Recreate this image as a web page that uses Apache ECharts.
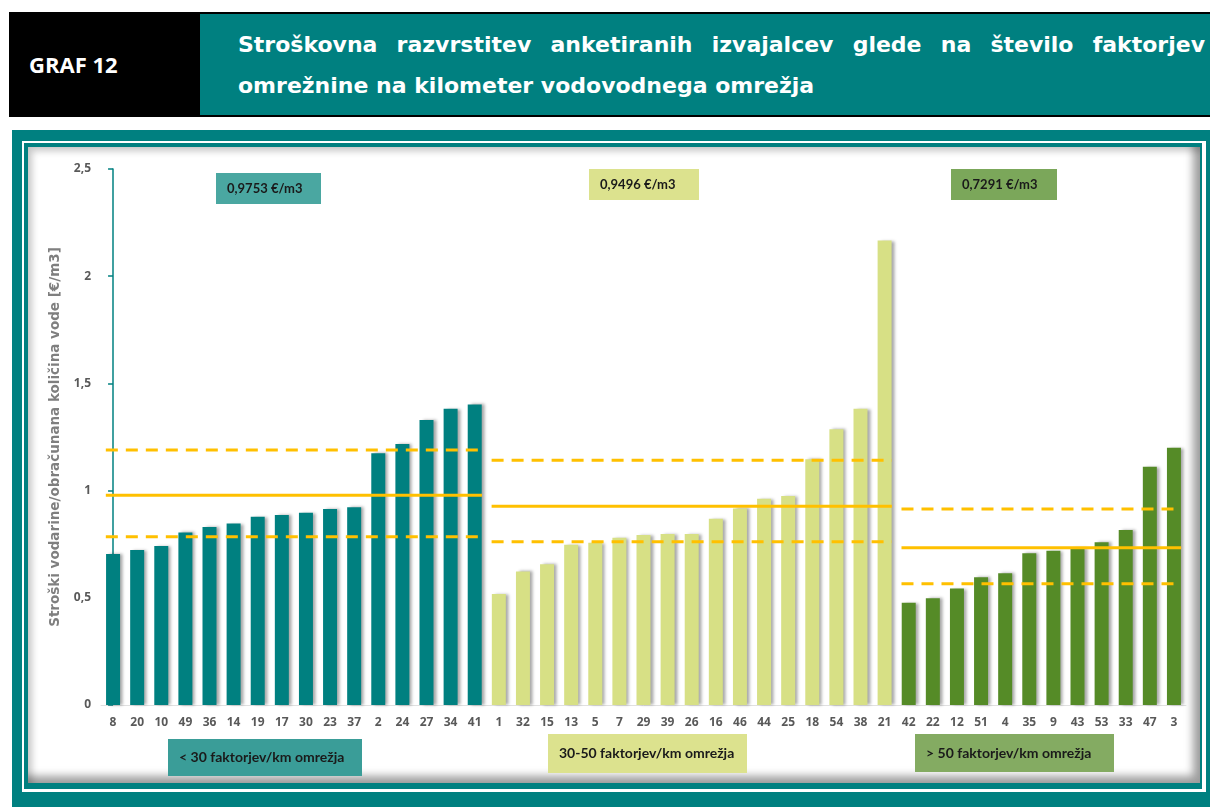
<!DOCTYPE html>
<html>
<head>
<meta charset="UTF-8">
<title>GRAF 12</title>
<style>
  html, body { margin: 0; padding: 0; background: #fff; }
  body { width: 1210px; height: 807px; position: relative; overflow: hidden; font-family: "DejaVu Sans", sans-serif; }
  .hdr { position: absolute; left: 9px; top: 12px; width: 1201px; height: 105px; background: #000; }
  .hdr .no { position: absolute; left: 20px; top: 37px; color: #fff; font: bold 22px "Open Sans", sans-serif; line-height: 30px; }
  .hdr .tt { position: absolute; left: 191px; top: 2px; right: 0; height: 101px; background: #008080; }
  .hdr .tt div { position: absolute; left: 38px; right: 5px; color: #fff; font: bold 22px "DejaVu Sans", sans-serif; line-height: 26px; }
  .hdr .l1 { top: 18px; text-align: justify; text-align-last: justify; }
  .hdr .l2 { top: 59px; white-space: nowrap; }
  .f1 { position: absolute; left: 12px; top: 130px; width: 1198px; height: 677px; background: #008080; }
  .f2 { position: absolute; left: 22px; top: 141px; width: 1184px; height: 651px; background: #fff; }
  .f3 { position: absolute; left: 24px; top: 143px; width: 1178px; height: 646px; background: #008080; }
  .f4 { position: absolute; left: 28px; top: 147px; width: 1172px; height: 636px; background: #fff;
        box-shadow: inset 4px 4px 7px rgba(0,0,0,0.22), inset -7px -7px 8px rgba(0,0,0,0.38); }
  #chart { position: absolute; left: 0; top: 0; width: 1210px; height: 807px; }
</style>
</head>
<body>
<div class="hdr">
  <div class="no">GRAF 12</div>
  <div class="tt">
    <div class="l1">Stroškovna razvrstitev anketiranih izvajalcev glede na število faktorjev</div>
    <div class="l2">omrežnine na kilometer vodovodnega omrežja</div>
  </div>
</div>
<div class="f1"></div>
<div class="f2"></div>
<div class="f3"></div>
<div class="f4"></div>
<div id="chart"></div>
<script src="https://cdn.jsdelivr.net/npm/echarts@6/dist/echarts.min.js"></script>
<script type="text/javascript">
  // skupina < 30 faktorjev/km
  var cats1 = ['8','20','10','49','36','14','19','17','30','23','37','2','24','27','34','41'];
  var vals1 = [0.704,0.723,0.742,0.805,0.830,0.846,0.878,0.886,0.897,0.914,0.922,1.174,1.217,1.329,1.382,1.402];
  // skupina 30-50 faktorjev/km
  var cats2 = ['1','32','15','13','5','7','29','39','26','16','46','44','25','18','54','38','21'];
  var vals2 = [0.518,0.623,0.656,0.748,0.757,0.780,0.793,0.798,0.798,0.869,0.917,0.962,0.975,1.146,1.286,1.382,2.166];
  // skupina > 50 faktorjev/km
  var cats3 = ['42','22','12','51','4','35','9','43','53','33','47','3'];
  var vals3 = [0.477,0.498,0.543,0.596,0.614,0.708,0.720,0.731,0.759,0.816,1.111,1.200];

  var groupColors = ['#008080', '#d7e085', '#558b27'];
  var meanVals  = [0.978, 0.927, 0.734];
  var upperVals = [1.189, 1.141, 0.914];
  var lowerVals = [0.785, 0.762, 0.566];
  var meanLabels  = ['0,9753 €/m3', '0,9496 €/m3', '0,7291 €/m3'];
  var groupLabels = ['< 30 faktorjev/km omrežja', '30-50 faktorjev/km omrežja', '> 50 faktorjev/km omrežja'];
  var yTicks = [0, 0.5, 1, 1.5, 2, 2.5];

  var groups = [[cats1, vals1], [cats2, vals2], [cats3, vals3]];
  var categories = [];
  var barData = [];
  var ranges = [];
  groups.forEach(function (g, gi) {
    var start = categories.length;
    g[0].forEach(function (c, i) {
      categories.push(c);
      barData.push({ value: g[1][i], itemStyle: { color: groupColors[gi] } });
    });
    ranges.push([start - 0.3, categories.length - 1 + 0.3]);
  });

  var series = [{
    type: 'bar',
    data: barData,
    barWidth: 14,
    xAxisIndex: 0,
    itemStyle: { shadowColor: 'rgba(0,0,0,0.35)', shadowOffsetX: 3, shadowOffsetY: 0, shadowBlur: 3 },
    z: 2
  }];
  function refLine(r, v, dashed) {
    return {
      type: 'line', xAxisIndex: 1, data: [[r[0], v], [r[1], v]],
      symbol: 'none', silent: true, z: 5,
      lineStyle: { color: '#ffc000', width: 3, type: dashed ? [12, 8] : 'solid' }
    };
  }
  ranges.forEach(function (r, gi) {
    series.push(refLine(r, meanVals[gi], false));
    series.push(refLine(r, upperVals[gi], true));
    series.push(refLine(r, lowerVals[gi], true));
  });

  // okvirji z oznakami
  var topBoxes = [[216, 173, 105, 31, '#4aa7a1'], [589, 169, 110, 31, '#dce28e'], [951, 169, 106, 31, '#7ba75a']];
  var botBoxes = [[168, 739, 194, 37, '#3a9d98'], [548, 734, 199, 39, '#dce28e'], [915, 734, 199, 38, '#84ab62']];
  var graphic = [];
  function box(b, txt, size) {
    graphic.push({ type: 'rect', shape: { x: b[0], y: b[1], width: b[2], height: b[3] }, style: { fill: b[4] }, z: 10 });
    graphic.push({ type: 'text', x: b[0] + 11, y: b[1] + b[3] / 2, z: 11,
      style: { text: txt, fill: '#1a1a1a', font: 'bold ' + size + 'px Lato', textAlign: 'left', textVerticalAlign: 'middle', verticalAlign: 'middle' } });
  }
  topBoxes.forEach(function (b, i) { box(b, meanLabels[i], 13); });
  botBoxes.forEach(function (b, i) { box(b, groupLabels[i], 14); });

  var chart = echarts.init(document.getElementById('chart'));
  chart.setOption({
    animation: false,
    grid: { left: 101, right: 24, top: 169, bottom: 102 },
    xAxis: [{
      type: 'category', data: categories,
      axisLine: { show: true, lineStyle: { color: '#e0e0e0', width: 1 } },
      axisTick: { show: false },
      axisLabel: { interval: 0, color: '#595959', fontWeight: 'bold', fontSize: 12, fontFamily: 'Open Sans', margin: 12 }
    }, {
      type: 'value', min: -0.5, max: categories.length - 0.5, show: false
    }],
    yAxis: {
      type: 'value', min: yTicks[0], max: yTicks[yTicks.length - 1], interval: 0.5,
      name: 'Stroški vodarine/obračunana količina vode [€/m3]',
      nameLocation: 'middle', nameRotate: 90, nameGap: 33,
      nameTextStyle: { color: '#7f7f7f', fontWeight: 'bold', fontSize: 13.5, fontFamily: 'DejaVu Sans' },
      axisLine: { show: true, lineStyle: { color: '#008080', width: 1.5 } },
      axisTick: { show: true, length: 5, lineStyle: { color: '#008080', width: 1.5 } },
      splitLine: { show: false },
      axisLabel: {
        color: '#595959', fontWeight: 'bold', fontSize: 12, fontFamily: 'Open Sans', margin: 10,
        formatter: function (v) { return String(v).replace('.', ','); }
      }
    },
    series: series,
    graphic: graphic
  });
</script>
</body>
</html>
